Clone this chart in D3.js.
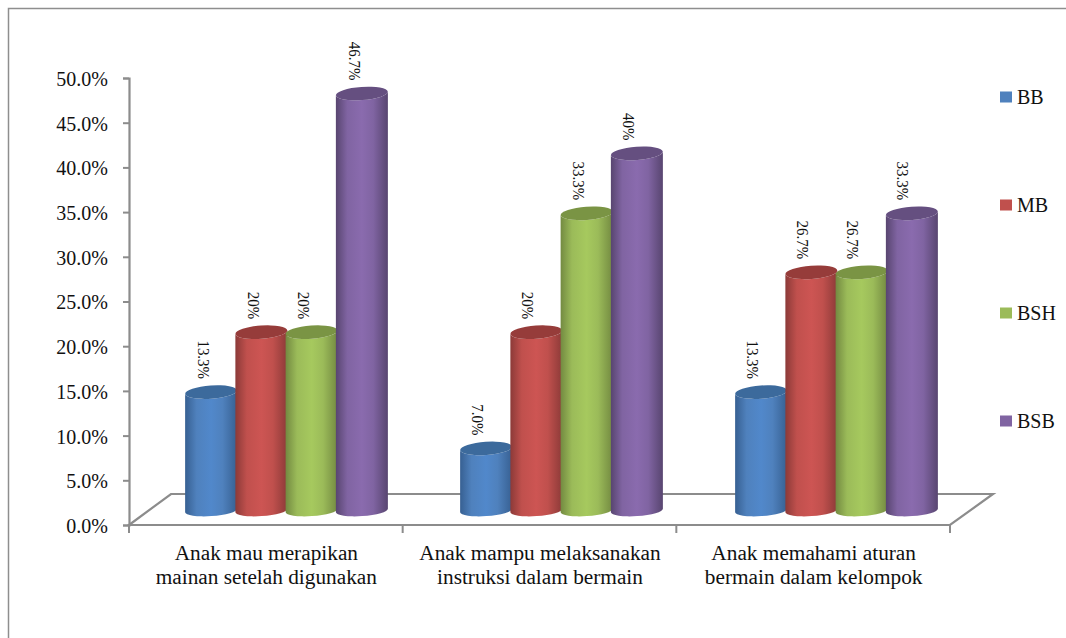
<!DOCTYPE html>
<html>
<head>
<meta charset="utf-8">
<style>
  html, body { margin: 0; padding: 0; background: #fff; }
  svg { display: block; }
  text { font-family: "Liberation Serif", serif; fill: #111; }
</style>
<script src="https://cdn.jsdelivr.net/npm/d3@7"></script>
</head>
<body>
<svg id="chart" width="1066" height="638"></svg>
<script>
// Chart data
const categories = [
  ["Anak mau merapikan", "mainan setelah digunakan"],
  ["Anak mampu melaksanakan", "instruksi dalam bermain"],
  ["Anak memahami aturan", "bermain dalam kelompok"]
];
const seriesNames = ["BB", "MB", "BSH", "BSB"];
const seriesValues = [
  [13.3, 7.0, 13.3],
  [20, 20, 26.7],
  [20, 33.3, 26.7],
  [46.7, 40, 33.3]
];
const valueLabels = [
  ["13.3%", "7.0%", "13.3%"],
  ["20%", "20%", "26.7%"],
  ["20%", "33.3%", "26.7%"],
  ["46.7%", "40%", "33.3%"]
];
const yTicks = [0, 5, 10, 15, 20, 25, 30, 35, 40, 45, 50];
const seriesColors = [
  { base: "#4f81bd", light: "#5188cb", dark: "#376092", top: "#3c6a9c" },
  { base: "#c0504d", light: "#cd5553", dark: "#8c3a38", top: "#963c3a" },
  { base: "#9bbb59", light: "#a6c95e", dark: "#738a41", top: "#7a9444" },
  { base: "#8064a2", light: "#8a6bae", dark: "#584570", top: "#654f80" }
];

const svg = d3.select("#chart");
const axisColor = "#8c8c8c";

// Outer chart frame, open on the right and bottom
svg.append("path")
  .attr("d", "M1066,8.5H8.5V638")
  .attr("fill", "none").attr("stroke", "#8e8e8e").attr("stroke-width", 1.5);

// Scales
const plot = { left: 129, right: 950, top: 78, bottom: 525 };
const depth = { x: 42, y: 31 };
const y = d3.scaleLinear().domain([0, 50]).range([plot.bottom, plot.top]);
const xAxisBand = d3.scaleBand().domain(d3.range(categories.length)).range([plot.left, plot.right]);
const xGroup = d3.scaleBand().domain(d3.range(categories.length)).range([149, 974]);
const xBar = d3.scaleBand().domain(d3.range(seriesNames.length)).range([0, 201]);

// Floor of the 3D plot area
svg.append("path")
  .attr("d", `M${plot.left},${plot.bottom}L${plot.left + depth.x},${plot.bottom - depth.y}H${plot.right + depth.x + 1}L${plot.right},${plot.bottom}Z`)
  .attr("fill", "none").attr("stroke", axisColor).attr("stroke-width", 2.2);

// Value axis
const yAxis = svg.append("g")
  .attr("transform", `translate(${plot.left},0)`)
  .call(d3.axisLeft(y).tickValues(yTicks).tickFormat(d => d.toFixed(1) + "%").tickSizeOuter(0).tickSize(6).tickPadding(15));
yAxis.select(".domain").attr("stroke", axisColor).attr("stroke-width", 2.2);
yAxis.selectAll("line").attr("stroke", axisColor).attr("stroke-width", 2);
yAxis.selectAll("text")
  .attr("font-size", 20).attr("font-family", "Liberation Serif, serif").attr("fill", "#111")
  .attr("dy", "0.37em");

// Category boundaries and wrapped labels
svg.append("g").selectAll("line")
  .data(d3.range(categories.length + 1))
  .join("line")
  .attr("x1", i => plot.left + i * xAxisBand.step())
  .attr("x2", i => plot.left + i * xAxisBand.step())
  .attr("y1", plot.bottom).attr("y2", plot.bottom + 8)
  .attr("stroke", axisColor).attr("stroke-width", 2);

const catLabel = svg.append("g").selectAll("text")
  .data(categories)
  .join("text")
  .attr("text-anchor", "middle")
  .attr("font-size", 21.3);
catLabel.selectAll("tspan")
  .data((d, i) => d.map(line => ({ line, i })))
  .join("tspan")
  .attr("x", d => xAxisBand(d.i) + xAxisBand.bandwidth() / 2 + 0.5)
  .attr("y", (d, j) => 559.5 + j * 24)
  .text(d => d.line);

// Horizontal cylinder shading per series
const defs = svg.append("defs");
seriesColors.forEach((c, i) => {
  const g = defs.append("linearGradient").attr("id", "cyl" + i)
    .attr("x1", 0).attr("x2", 1).attr("y1", 0).attr("y2", 0);
  [[0, c.dark], [0.22, c.base], [0.5, c.light], [0.72, c.base], [1, c.dark]].forEach(([o, col]) =>
    g.append("stop").attr("offset", o).attr("stop-color", col));
});

// Cylinders: the base sits inside the floor, tilted slightly to follow the view
const rx = 26, ryTop = 6.6, ryBase = 5.6, tilt = -4, baseLift = 14;
const dy = rx * Math.sin(-tilt * Math.PI / 180);
const rows = seriesNames.flatMap((name, s) =>
  categories.map((c, g) => ({ s, g, value: seriesValues[s][g], label: valueLabels[s][g] })));

rows.sort((a, b) => a.g - b.g || a.s - b.s);

const bars = svg.append("g").selectAll("g").data(rows).join("g")
  .attr("transform", d => `translate(${xGroup(d.g) + xGroup.bandwidth() / 2 - 100.5 + xBar(d.s) + xBar.bandwidth() / 2},0)`);

bars.append("path")
  .attr("fill", d => `url(#cyl${d.s})`)
  .attr("d", d => {
    const t = y(d.value) - baseLift, b = y(0) - baseLift - 0.5;
    return `M${-rx},${t + dy}V${b + dy}A${rx},${ryBase} ${tilt} 0 0 ${rx},${b - dy}V${t - dy}A${rx},${ryTop} ${tilt} 0 1 ${-rx},${t + dy}Z`;
  });

bars.append("ellipse")
  .attr("rx", rx).attr("ry", ryTop)
  .attr("fill", d => seriesColors[d.s].top)
  .attr("transform", d => `translate(0,${y(d.value) - baseLift}) rotate(${tilt})`);

// Value labels, turned to read downward
bars.append("text")
  .attr("font-size", 15)
  .attr("text-anchor", "end")
  .attr("dominant-baseline", "middle")
  .attr("transform", d => `translate(${-9.5 - d.g * 0.6},${y(d.value) - baseLift - 13}) rotate(90) scale(1,1.12)`)
  .text(d => d.label);

// Legend
const legendY = d3.scalePoint().domain(seriesNames).range([97, 421]);
const legend = svg.append("g").selectAll("g").data(seriesNames).join("g")
  .attr("transform", d => `translate(1000,${legendY(d)})`);
legend.append("rect")
  .attr("x", 0).attr("y", -5.5).attr("width", 12).attr("height", 11)
  .attr("fill", (d, i) => seriesColors[i].base);
legend.append("text")
  .attr("x", 17).attr("y", 6.5)
  .attr("font-size", 20)
  .text(d => d);
</script>
</body>
</html>
